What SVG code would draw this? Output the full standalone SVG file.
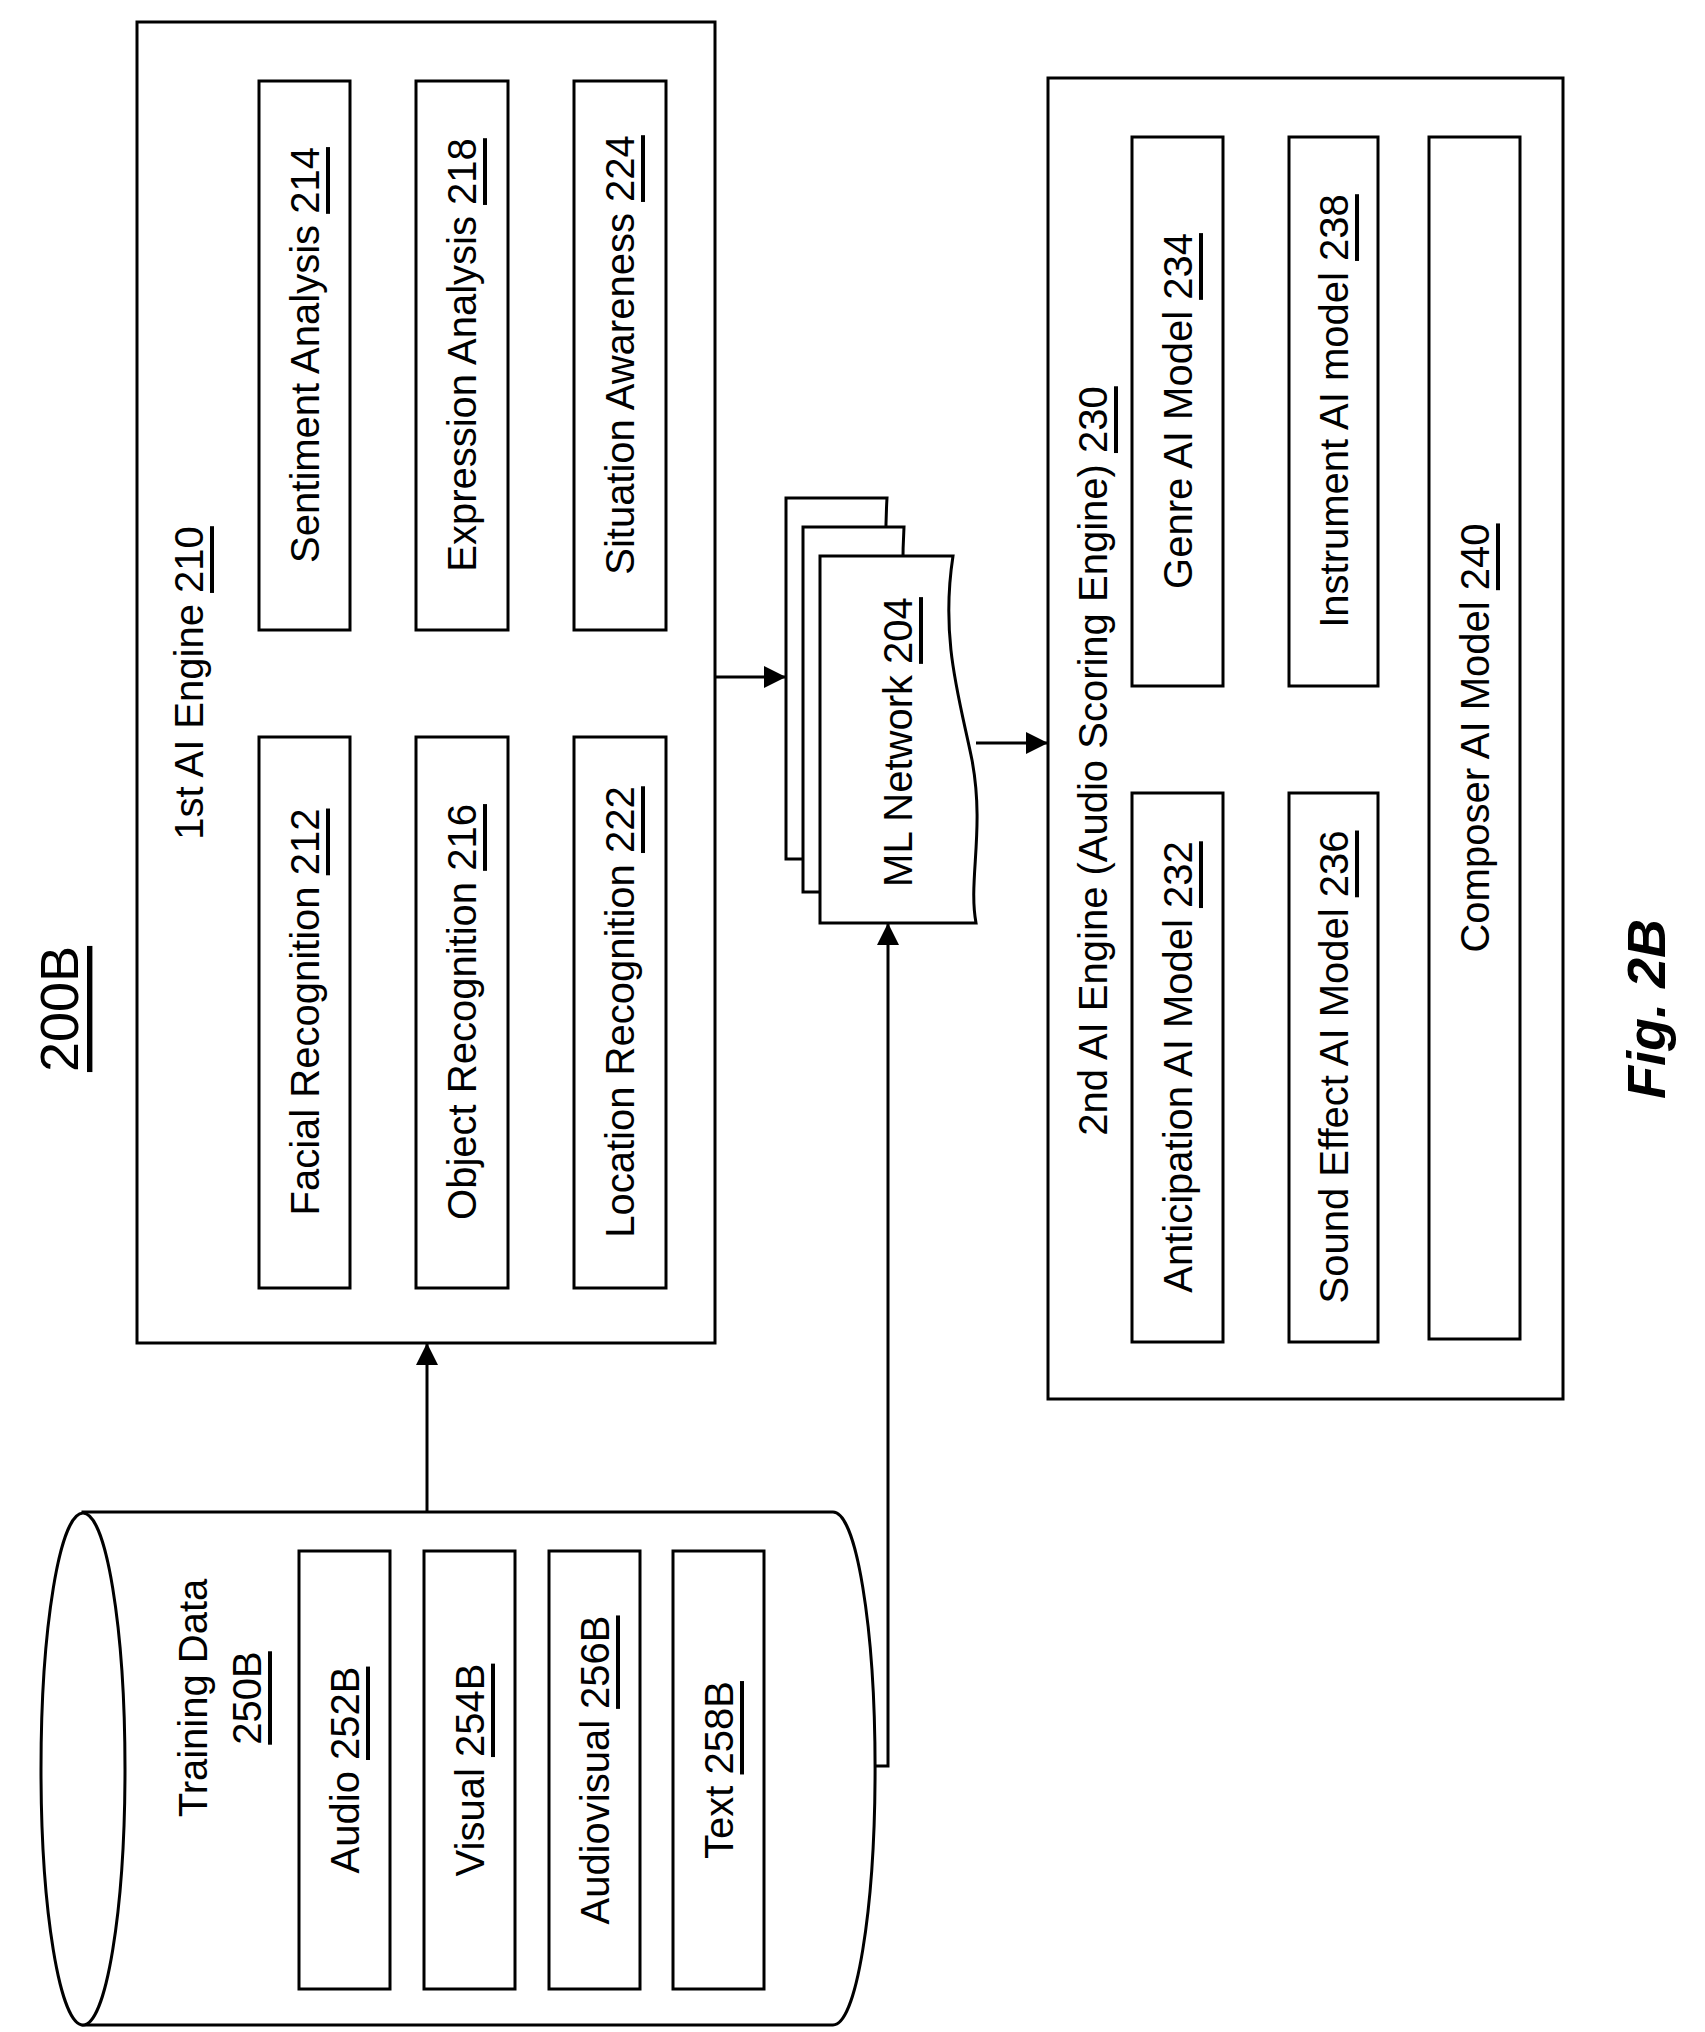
<svg xmlns="http://www.w3.org/2000/svg" width="1705" height="2032" viewBox="0 0 1705 2032">
<style>
.b{fill:#fff;stroke:#000;stroke-width:3}
.l{fill:none;stroke:#000;stroke-width:3}
text{font-family:"Liberation Sans",Arial,sans-serif;font-size:40px;fill:#000;text-anchor:middle;dominant-baseline:central}
.u{text-decoration:underline}
</style>
<defs>
<marker id="ah" viewBox="0 0 10 10" refX="10" refY="5" markerWidth="22" markerHeight="22" orient="auto" markerUnits="userSpaceOnUse"><path d="M0,0L10,5L0,10z"/></marker></defs>
<text x="59" y="1009" transform="rotate(-90 59 1009)" style="font-size:54px" class="u">200B</text>
<text x="1646" y="1009" transform="rotate(-90 1646 1009)" style="font-size:54px;font-weight:bold;font-style:italic">Fig. 2B</text>
<g id="e1"><rect class="b" x="137" y="22" width="578" height="1321"/>
<text transform="translate(189,683) rotate(-90)">1st AI Engine <tspan class="u">210</tspan></text></g>
<g id="n212"><rect class="b" x="259" y="737" width="91" height="551"/><text transform="translate(305,1012) rotate(-90)">Facial Recognition <tspan class="u">212</tspan></text></g>
<g id="n214"><rect class="b" x="259" y="81" width="91" height="549"/><text transform="translate(305,355) rotate(-90)">Sentiment Analysis <tspan class="u">214</tspan></text></g>
<g id="n216"><rect class="b" x="416" y="737" width="92" height="551"/><text transform="translate(462,1012) rotate(-90)">Object Recognition <tspan class="u">216</tspan></text></g>
<g id="n218"><rect class="b" x="416" y="81" width="92" height="549"/><text transform="translate(462,355) rotate(-90)">Expression Analysis <tspan class="u">218</tspan></text></g>
<g id="n222"><rect class="b" x="574" y="737" width="92" height="551"/><text transform="translate(620,1012) rotate(-90)">Location Recognition <tspan class="u">222</tspan></text></g>
<g id="n224"><rect class="b" x="574" y="81" width="92" height="549"/><text transform="translate(620,355) rotate(-90)">Situation Awareness <tspan class="u">224</tspan></text></g>
<g id="ml">
<path class="b" d="M786,498H887C880,620 905,740 916,859H786Z"/>
<path class="b" d="M803,527H904C897,650 922,770 934,892H803Z"/>
<path class="b" d="M820,556H953C940,640 960,700 972,760C985,830 968,880 976,923H820Z"/>
<text transform="translate(898,742) rotate(-90)">ML Network <tspan class="u">204</tspan></text></g>
<g id="e2"><rect class="b" x="1048" y="78" width="515" height="1321"/>
<text transform="translate(1093,761) rotate(-90)">2nd AI Engine (Audio Scoring Engine) <tspan class="u">230</tspan></text></g>
<g id="n232"><rect class="b" x="1132" y="793" width="91" height="549"/><text transform="translate(1178,1067) rotate(-90)">Anticipation AI Model <tspan class="u">232</tspan></text></g>
<g id="n234"><rect class="b" x="1132" y="137" width="91" height="549"/><text transform="translate(1178,411) rotate(-90)">Genre AI Model <tspan class="u">234</tspan></text></g>
<g id="n236"><rect class="b" x="1289" y="793" width="89" height="549"/><text transform="translate(1334,1067) rotate(-90)">Sound Effect AI Model <tspan class="u">236</tspan></text></g>
<g id="n238"><rect class="b" x="1289" y="137" width="89" height="549"/><text transform="translate(1334,411) rotate(-90)">Instrument AI model <tspan class="u">238</tspan></text></g>
<g id="n240"><rect class="b" x="1429" y="137" width="91" height="1202"/><text transform="translate(1475,738) rotate(-90)">Composer AI Model <tspan class="u">240</tspan></text></g>
<g id="td">
<path class="b" d="M83,1512H833A42,256 0 0 1 833,2025H83Z"/>
<ellipse class="b" cx="83" cy="1769" rx="42" ry="256"/>
<text transform="translate(193,1698) rotate(-90)">Training Data</text>
<text transform="translate(247,1698) rotate(-90)" class="u">250B</text></g>
<g id="n252"><rect class="b" x="299" y="1551" width="91" height="438"/><text transform="translate(345,1770) rotate(-90)">Audio <tspan class="u">252B</tspan></text></g>
<g id="n254"><rect class="b" x="424" y="1551" width="91" height="438"/><text transform="translate(470,1770) rotate(-90)">Visual <tspan class="u">254B</tspan></text></g>
<g id="n256"><rect class="b" x="549" y="1551" width="91" height="438"/><text transform="translate(595,1770) rotate(-90)">Audiovisual <tspan class="u">256B</tspan></text></g>
<g id="n258"><rect class="b" x="673" y="1551" width="91" height="438"/><text transform="translate(719,1770) rotate(-90)">Text <tspan class="u">258B</tspan></text></g>
<g id="connectors">
<path class="l" d="M715,677H786" marker-end="url(#ah)"/>
<path class="l" d="M976,743H1048" marker-end="url(#ah)"/>
<path class="l" d="M427,1512V1343" marker-end="url(#ah)"/>
<path class="l" d="M875,1766H888V923" marker-end="url(#ah)"/>
</g>
</svg>
